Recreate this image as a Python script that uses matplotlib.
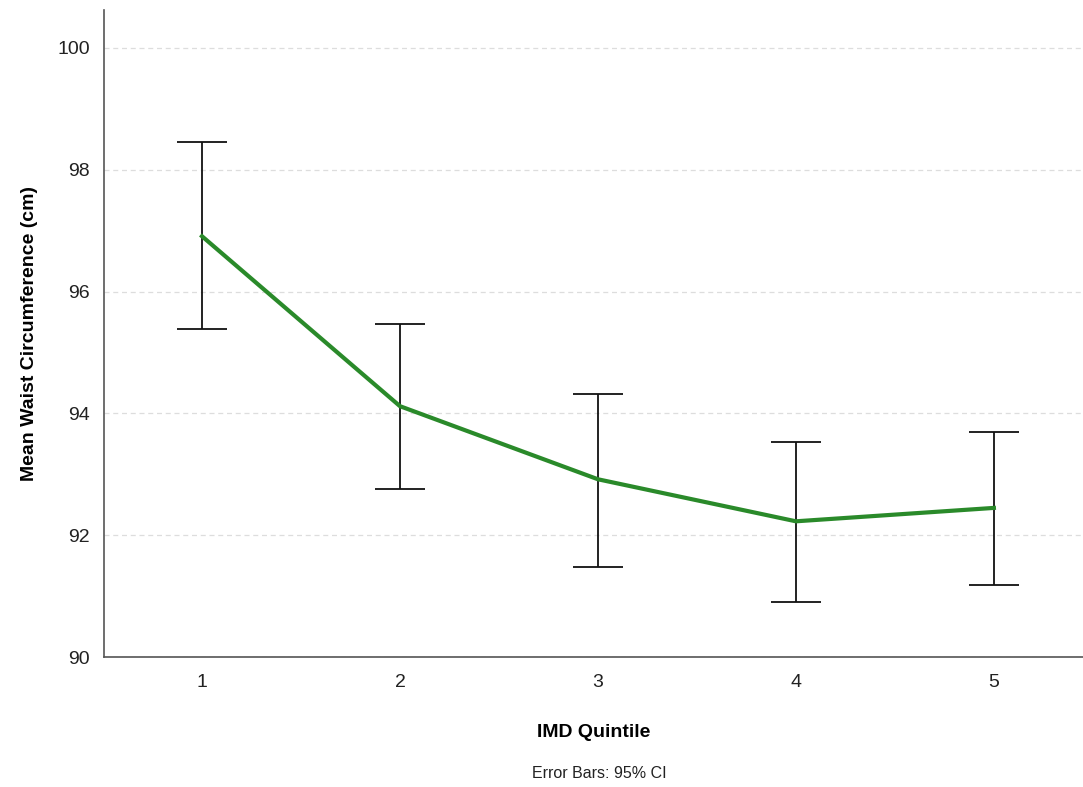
import matplotlib
matplotlib.use("Agg")
import matplotlib.pyplot as plt

plt.rcParams['font.family'] = ['Liberation Sans', 'DejaVu Sans']

quintiles = [1, 2, 3, 4, 5]
mean_waist = [96.91, 94.12, 92.92, 92.23, 92.45]
ci_upper = [98.46, 95.47, 94.32, 93.53, 93.69]
ci_lower = [95.39, 92.76, 91.48, 90.90, 91.18]

err_low = [m - lo for m, lo in zip(mean_waist, ci_lower)]
err_high = [hi - m for m, hi in zip(mean_waist, ci_upper)]

fig = plt.figure(figsize=(10.83, 7.87), dpi=100)
ax = fig.add_axes([0.096, 0.165, 0.904, 0.822])

ax.errorbar(quintiles, mean_waist, yerr=[err_low, err_high], fmt='none',
            ecolor='#111111', elinewidth=1.3, capsize=18, capthick=1.3, zorder=2)
ax.plot(quintiles, mean_waist, color='#2a8a2a', linewidth=3, zorder=3)

ax.set_xlim(0.505, 5.45)
ax.set_ylim(90, 100.62)
ax.set_yticks([90, 92, 94, 96, 98, 100])
ax.set_xticks(quintiles)
ax.yaxis.grid(True, linestyle=(0, (4, 3)), color='#dddddd', linewidth=0.9)
ax.set_axisbelow(True)
ax.tick_params(length=0, labelsize=14, colors='#222222')
ax.tick_params(axis='y', pad=10)
ax.tick_params(axis='x', pad=12)

for s in ['top', 'right']:
    ax.spines[s].set_visible(False)
for s in ['left', 'bottom']:
    ax.spines[s].set_color('#555555')
    ax.spines[s].set_linewidth(1.2)

ax.set_xlabel("IMD Quintile", fontsize=14, fontweight='bold', labelpad=24)
ax.set_ylabel("Mean Waist Circumference (cm)", fontsize=14, fontweight='bold', labelpad=14)
fig.text(0.553, 0.012, "Error Bars: 95% CI", ha='center', fontsize=11.5, color='#222222')

fig.savefig("out.png", dpi=100)
